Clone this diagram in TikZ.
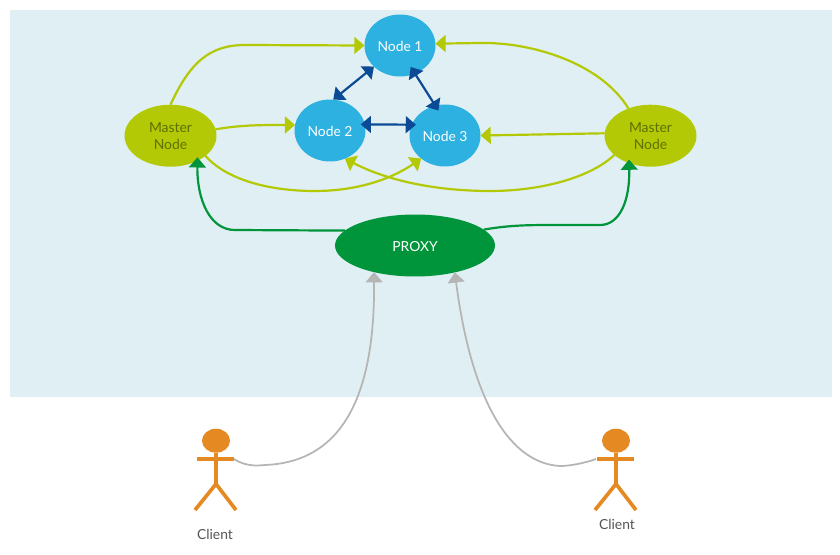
\documentclass[tikz,border=0pt]{standalone}
\usepackage{fontspec}
\setmainfont{Lato}
\usetikzlibrary{arrows.meta,shapes.geometric}
\definecolor{panelbg}{HTML}{E0EFF3}
\definecolor{limeline}{HTML}{B3C905}
\definecolor{limetext}{HTML}{5F7000}
\definecolor{skyblue}{HTML}{2CB1E0}
\definecolor{proxygreen}{HTML}{00953B}
\definecolor{navyline}{HTML}{0B4A94}
\definecolor{greyline}{HTML}{B5B5B5}
\definecolor{clientorange}{HTML}{E58A22}
\definecolor{clienttext}{HTML}{555555}
\tikzset{
	tip/.style={-{Triangle[length=5.8pt,width=9.6pt]}},
	dbltip/.style={{Triangle[length=5.8pt,width=9.6pt]}-{Triangle[length=5.8pt,width=9.6pt]}},
	blob/.style={ellipse, inner sep=0pt, outer sep=0pt, font=\fontsize{7.9}{9.6}\selectfont, align=center},
	datanode/.style={blob, fill=skyblue, text=white, minimum width=1.42cm, minimum height=1.24cm, text height=6.9pt, text depth=0pt},
	masternode/.style={blob, fill=limeline, text=limetext, minimum width=1.84cm, minimum height=1.24cm},
	proxynode/.style={blob, fill=proxygreen, text=white, minimum width=3.2cm, minimum height=1.24cm, text height=6.9pt, text depth=0pt},
	limeedge/.style={tip, draw=limeline, line width=1.25pt},
	greenedge/.style={tip, draw=proxygreen, line width=1.25pt, shorten >=-2pt},
	navyedge/.style={dbltip, draw=navyline, line width=1.25pt},
	greyedge/.style={tip, draw=greyline, line width=1pt},
	stick/.style={draw=clientorange, line width=2.1pt},
}
\begin{document}
\begin{tikzpicture}[x=0.02cm, y=-0.02cm]
	\useasboundingbox (0,0) rectangle (840,555);
	\fill[panelbg] (10,10) rectangle (832,397);

	\node[datanode] (node_1) at (400,45.5) {Node 1};
	\node[datanode] (node_2) at (330,130.5) {Node 2};
	\node[datanode] (node_3) at (445,135.5) {Node 3};
	\node[masternode] (master_l) at (170.5,135.7) {Master\\Node};
	\node[masternode] (master_r) at (650.5,135.7) {Master\\Node};
	\node[proxynode] (proxy) at (415,245.5) {PROXY};

	% clients
	\foreach \n/\x/\h/\t/\ty in {l/216/18/215/534, r/616/-20/617/524} {
		\node[ellipse, fill=clientorange, inner sep=0pt, outer sep=0pt, minimum width=0.56cm, minimum height=0.48cm] (head_\n) at (\x,440.7) {};
		\draw[stick] (head_\n.south) -- (\x,484) coordinate (hip_\n);
		\draw[stick] ({\x-19},459) -- ({\x+18},459);
		\draw[stick] ({\x-21},510) -- (hip_\n) -- ({\x+20},510);
		\coordinate (hand_\n) at ({\x+\h},459);
		\node[font=\fontsize{7.9}{9.6}\selectfont, text=clienttext] (client_\n) at (\t,\ty) {Client};
	}

	\draw[limeedge] (master_l.90) .. controls (190,62) and (210,45) .. (245,45) -- (node_1.180);
	\draw[limeedge] (master_l.8) .. controls (240,125) and (260,125) .. (node_2.171);
	\draw[limeedge] (master_l.330) .. controls (225,178) and (265,191) .. (315,191) .. controls (355,191) and (390,180) .. (node_3.224);
	\draw[limeedge] (master_r.129) .. controls (600,62) and (530,42) .. (480,43) -- (node_1.3);
	\draw[limeedge] (master_r.177) -- (node_3.0);
	\draw[limeedge] (master_r.208) .. controls (590,178) and (540,191) .. (490,191) .. controls (440,191) and (390,182) .. (node_2.298);

	\draw[greenedge] (proxy.168) -- (235,230) .. controls (210,230) and (197,200) .. (master_l.317);
	\draw[greenedge] (proxy.13) .. controls (510,225) and (530,225) .. (555,225) -- (600,225) .. controls (620,225) and (630,200) .. (master_r.232);

	\draw[navyedge] (node_1.219) -- (node_2.84);
	\draw[navyedge, shorten <=-4.5pt, shorten >=-3.3pt] (node_1.298) -- (node_3.108);
	\draw[navyedge, shorten <=-2.3pt, shorten >=-2.4pt] (node_2.10.6) -- (node_3.162.5);

	\draw[greyedge] (hand_l) .. controls (245,466) and (255,466) .. (265,465) .. controls (340,462) and (375,400) .. (proxy.213.8);
	\draw[greyedge] (hand_r) .. controls (585,463) and (570,466) .. (560,466) .. controls (505,463) and (470,390) .. (proxy.326.2);
\end{tikzpicture}
\end{document}
